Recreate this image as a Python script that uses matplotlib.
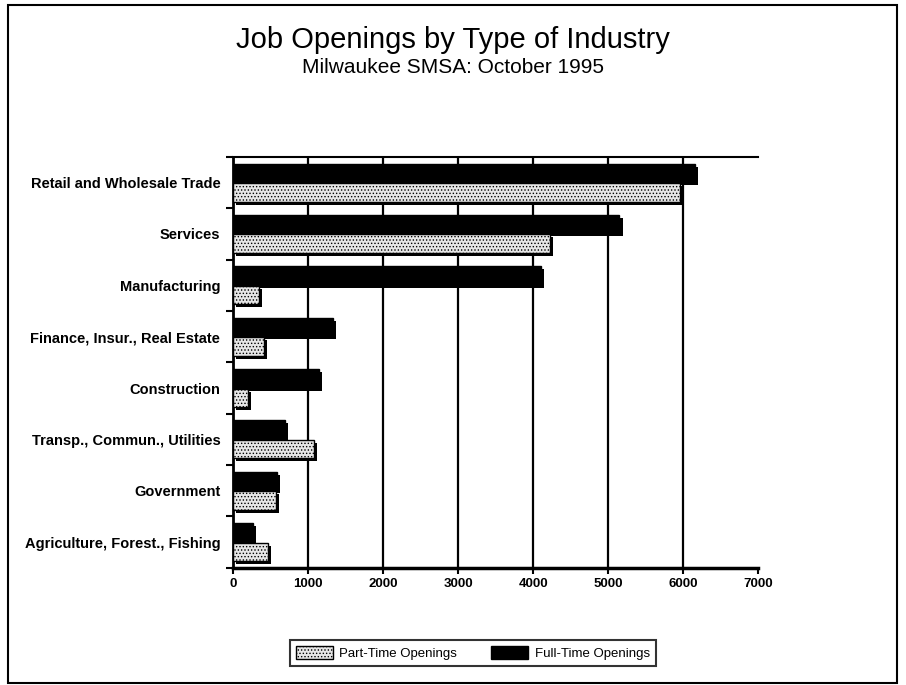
import matplotlib
matplotlib.use("Agg")
import matplotlib.pyplot as plt
import matplotlib.patheffects as pe
from matplotlib.patches import Rectangle, Patch
import numpy as np

plt.rcParams['font.family'] = ['Liberation Sans', 'DejaVu Sans']
plt.rcParams['hatch.linewidth'] = 0.6

categories = ["Retail and Wholesale Trade", "Services", "Manufacturing",
              "Finance, Insur., Real Estate", "Construction",
              "Transp., Commun., Utilities", "Government",
              "Agriculture, Forest., Fishing"]
full_time = [6150, 5150, 4100, 1330, 1150, 700, 590, 270]
part_time = [5950, 4230, 350, 420, 200, 1080, 570, 470]
x_ticks = [0, 1000, 2000, 3000, 4000, 5000, 6000, 7000]

fig = plt.figure(figsize=(9.06, 6.85), dpi=100)
ax = fig.add_axes([0.257, 0.171, 0.580, 0.600])

n = len(categories)
y = np.arange(n)[::-1].astype(float)
h = 0.36
off = 0.19
shadow = [pe.SimplePatchShadow(offset=(2.2, -2.2), shadow_rgbFace='black', alpha=1.0), pe.Normal()]

part_face = '#e6e6e6'
ax.barh(y + off, full_time, height=h, color='black', edgecolor='black',
        linewidth=1.0, path_effects=shadow, zorder=3)
ax.barh(y - off, part_time, height=h, color=part_face, edgecolor='black', hatch='.....',
        linewidth=1.0, path_effects=shadow, zorder=3)

ax.set_xlim(0, 7000)
ax.set_ylim(-0.5, n - 0.5)
ax.set_xticks(x_ticks)
ax.set_xticklabels([str(v) for v in x_ticks], fontsize=9.5, fontweight='bold')
ax.set_yticks(y)
ax.set_yticklabels(categories, fontsize=10.5, fontweight='bold')
ax.tick_params(axis='y', length=0, pad=9)
ax.set_yticks(np.arange(n + 1) - 0.5, minor=True)
ax.tick_params(axis='y', which='minor', length=5, width=1.5, direction='out')
ax.tick_params(axis='x', length=4, width=1.5, direction='out', pad=3)

for v in x_ticks[1:-1]:
    ax.axvline(v, color='black', linewidth=1.6, zorder=1)

ax.spines['right'].set_visible(False)
ax.spines['top'].set_linewidth(1.5)
ax.spines['left'].set_linewidth(2.0)
ax.spines['bottom'].set_linewidth(2.5)

fig.text(0.5, 0.930, "Job Openings by Type of Industry", ha='center', va='baseline', fontsize=21)
fig.text(0.5, 0.893, "Milwaukee SMSA: October 1995", ha='center', va='baseline', fontsize=15)

handles = [Patch(facecolor=part_face, edgecolor='black', hatch='.....', linewidth=1.0),
           Patch(facecolor='black', edgecolor='black', linewidth=1.0)]
leg = fig.legend(handles, ["Part-Time Openings", "Full-Time Openings"], ncol=2,
                 loc='center', bbox_to_anchor=(0.522, 0.047), fontsize=9.5,
                 frameon=True, fancybox=False, edgecolor='black',
                 handlelength=2.8, handleheight=1.15, columnspacing=2.6,
                 handletextpad=0.5, borderpad=0.45, borderaxespad=0)
leg.get_frame().set_linewidth(1.5)

fig.patches.append(Rectangle((0.009, 0.003), 0.981, 0.990, transform=fig.transFigure,
                             fill=False, edgecolor='black', linewidth=1.5))

fig.savefig("out.png", dpi=100)
